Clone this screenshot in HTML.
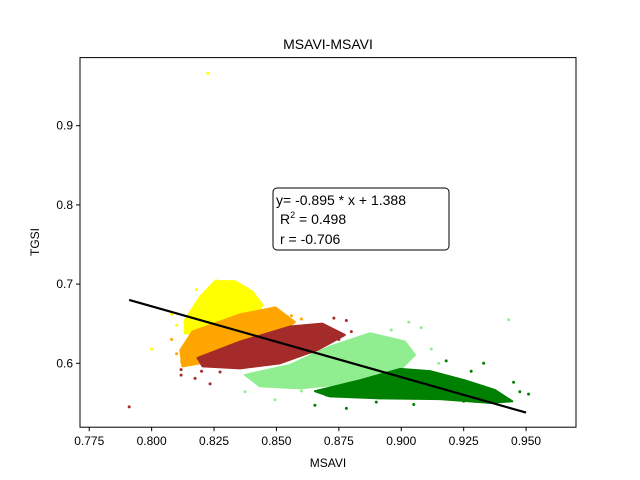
<!DOCTYPE html>
<html><head><meta charset="utf-8"><style>
body{margin:0;background:#fff;font-family:"Liberation Sans","DejaVu Sans",sans-serif}
svg{display:block}
</style></head><body>
<svg id="chart" width="640" height="480" xmlns="http://www.w3.org/2000/svg"></svg>
<script>
const xTicks=[0.775,0.800,0.825,0.850,0.875,0.900,0.925,0.950];
const xTickLabels=["0.775","0.800","0.825","0.850","0.875","0.900","0.925","0.950"];
const yTicks=[0.6,0.7,0.8,0.9];
const yTickLabels=["0.6","0.7","0.8","0.9"];
const groupNames=["lightgreen","green","yellow","orange","brown"];
const groupColors=["#90ee90","#008000","#ffff00","#ffa500","#a52a2a"];
const hullLightgreen=[[0.8374,0.5853],[0.8554,0.5979],[0.8714,0.6211],[0.8875,0.6380],[0.9015,0.6274],[0.9055,0.6105],[0.8975,0.5853],[0.8795,0.5746],[0.8594,0.5683],[0.8434,0.5708]];
const hullGreen=[[0.8654,0.5648],[0.8834,0.5785],[0.8995,0.5929],[0.9115,0.5901],[0.9255,0.5785],[0.9375,0.5663],[0.9445,0.5520],[0.9355,0.5500],[0.9155,0.5547],[0.8915,0.5557],[0.8714,0.5582]];
const hullYellow=[[0.8133,0.6547],[0.8194,0.6842],[0.8254,0.7037],[0.8334,0.7037],[0.8404,0.6905],[0.8444,0.6736],[0.8394,0.6504],[0.8194,0.6378],[0.8133,0.6378]];
const hullOrange=[[0.8115,0.6168],[0.8163,0.6400],[0.8354,0.6618],[0.8496,0.6706],[0.8574,0.6521],[0.8504,0.6358],[0.8314,0.6125],[0.8194,0.5999],[0.8123,0.5961]];
const hullBrown=[[0.8184,0.6067],[0.8354,0.6274],[0.8554,0.6464],[0.8684,0.6501],[0.8774,0.6358],[0.8664,0.6168],[0.8514,0.5999],[0.8354,0.5935],[0.8204,0.5961]];
const outLightgreen=[[0.943,0.655],[0.8374,0.564],[0.8494,0.554],[0.891,0.556],[0.903,0.652],[0.908,0.645],[0.843,0.575],[0.896,0.642],[0.912,0.618],[0.915,0.600],[0.864,0.612],[0.860,0.565],[0.878,0.565]];
const outGreen=[[0.8654,0.547],[0.878,0.543],[0.933,0.600],[0.9475,0.564],[0.951,0.561],[0.925,0.552],[0.940,0.557],[0.918,0.603],[0.928,0.590],[0.945,0.576],[0.870,0.560],[0.905,0.548],[0.890,0.551]];
const outYellow=[[0.8225,0.966],[0.800,0.618],[0.808,0.662],[0.826,0.704],[0.810,0.648],[0.818,0.693],[0.842,0.682],[0.846,0.668]];
const outOrange=[[0.808,0.630],[0.812,0.602],[0.852,0.662],[0.846,0.667],[0.856,0.660],[0.860,0.656],[0.810,0.612]];
const outBrown=[[0.791,0.545],[0.8118,0.585],[0.8174,0.581],[0.8234,0.574],[0.8274,0.589],[0.873,0.657],[0.878,0.654],[0.880,0.640],[0.875,0.630],[0.8118,0.592],[0.8200,0.590]];
const slope=-0.895, intercept=1.388, lineX=[0.791,0.950];
const X0=80,X1=576,Y0=57.6,Y1=427.2;
const xMin=0.7713,xMax=0.970,yMin=0.5193,yMax=0.986;
const sx=v=>X0+(v-xMin)/(xMax-xMin)*(X1-X0);
const sy=v=>Y1-(v-yMin)/(yMax-yMin)*(Y1-Y0);
const svg=document.getElementById('chart');
const NS='http://www.w3.org/2000/svg';
function mk(t,a,p){const e=document.createElementNS(NS,t);for(const k in a)e.setAttribute(k,a[k]);(p||svg).appendChild(e);return e;}
const hulls=[hullLightgreen,hullGreen,hullYellow,hullOrange,hullBrown];
const outs=[outLightgreen,outGreen,outYellow,outOrange,outBrown];
hulls.forEach((h,i)=>{
  const g=mk('g',{});
  
  
  const p=mk('polygon',{points:h.map(d=>sx(d[0])+','+sy(d[1])).join(' '),fill:groupColors[i],stroke:groupColors[i],'stroke-width':2,'stroke-linejoin':'round'},g);
  
  
  outs[i].forEach(d=>{
    const c=mk('circle',{cx:sx(d[0]),cy:sy(d[1]),r:1.5,fill:groupColors[i]},g);
    
    
  });
});
const ln=mk('line',{x1:sx(lineX[0]),y1:sy(slope*lineX[0]+intercept),x2:sx(lineX[1]),y2:sy(slope*lineX[1]+intercept),stroke:'#000','stroke-width':2.2});


const fr=mk('rect',{x:X0,y:Y0,width:X1-X0,height:Y1-Y0,fill:'none',stroke:'#000','stroke-width':1});


xTicks.forEach((v,i)=>{
  mk('line',{x1:sx(v),x2:sx(v),y1:Y1,y2:Y1+4,stroke:'#000'});
  const t=mk('text',{x:sx(v),y:Y1+18,'font-size':12,'text-anchor':'middle'});t.textContent=xTickLabels[i];
  
  
});
yTicks.forEach((v,i)=>{
  mk('line',{x1:X0-4,x2:X0,y1:sy(v),y2:sy(v),stroke:'#000'});
  const t=mk('text',{x:X0-7,y:sy(v)+4,'font-size':12,'text-anchor':'end'});t.textContent=yTickLabels[i];
  
  
});
</script>
<svg width="640" height="480" style="position:absolute;left:0;top:0" xmlns="http://www.w3.org/2000/svg">
<text x="328" y="49" font-size="14" text-anchor="middle">MSAVI-MSAVI</text>
<text x="328" y="467" font-size="12" text-anchor="middle">MSAVI</text>
<text transform="translate(39,242) rotate(-90)" font-size="12" text-anchor="middle">TGSI</text>
<g>
<rect x="273" y="188" width="176" height="62" rx="4" fill="#fff" stroke="#000" stroke-width="1"/>
<text x="276" y="205" font-size="14">y= -0.895 * x + 1.388</text>
<text x="280" y="224" font-size="14">R<tspan font-size="9" dy="-6">2</tspan><tspan dy="6"> = 0.498</tspan></text>
<text x="280" y="244" font-size="14">r = -0.706</text>
</g>
</svg>
</body></html>
